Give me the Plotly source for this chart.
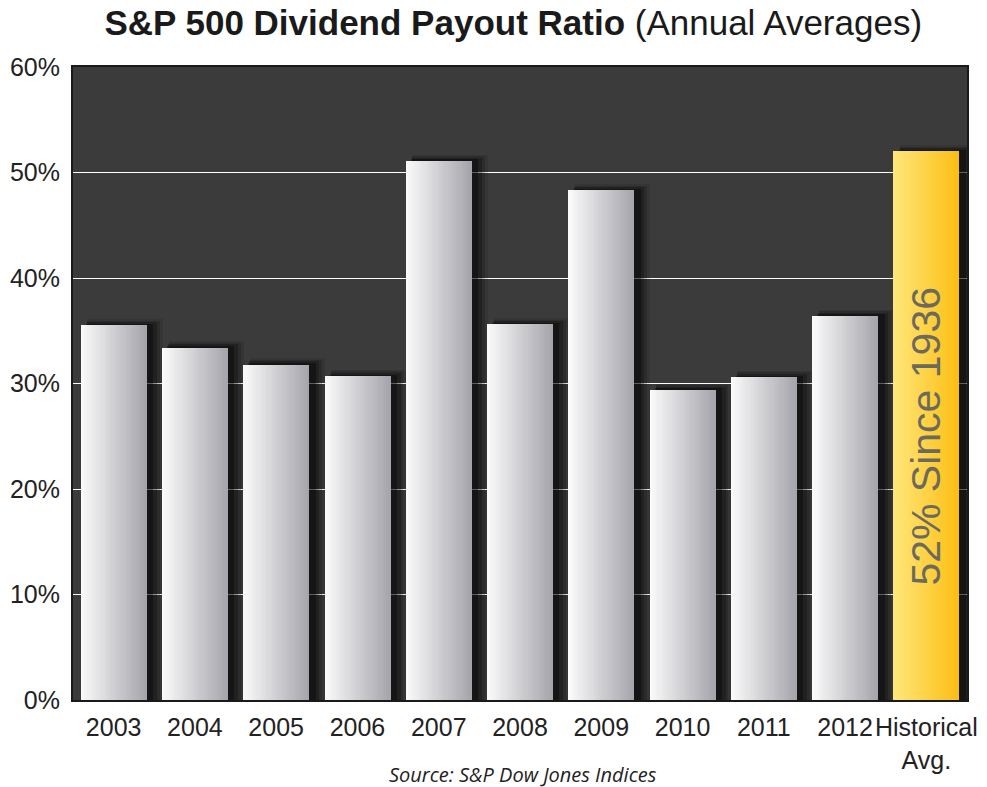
import plotly.graph_objects as go

categories = ["2003", "2004", "2005", "2006", "2007", "2008", "2009", "2010", "2011", "2012", "Historical<br>Avg."]
payout = [35.5, 33.4, 31.8, 30.7, 51.1, 35.6, 48.3, 29.4, 30.6, 36.4, 52.0]
is_hist = [False] * 10 + [True]
y_ticks = [0, 10, 20, 30, 40, 50, 60]
y_tick_text = ["0%", "10%", "20%", "30%", "40%", "50%", "60%"]

x = list(range(len(categories)))
bar_w = 0.81
n_slices = 30

def lerp(c1, c2, t):
    return "rgb(%d,%d,%d)" % tuple(round(a + (b - a) * t) for a, b in zip(c1, c2))

grey_l, grey_r = (250, 250, 250), (165, 165, 172)
gold_l, gold_r = (255, 230, 120), (252, 190, 20)

fig = go.Figure()

# soft drop shadow layers
for k, (dx, dw, dy, a) in enumerate([(0.12, 0.12, 0.6, 0.10), (0.10, 0.08, 0.45, 0.16),
                                      (0.08, 0.05, 0.3, 0.24), (0.05, 0.02, 0.15, 0.35)]):
    fig.add_trace(go.Bar(
        x=x, y=[v + dy for v in payout], base=0,
        width=bar_w + dw, offset=-bar_w / 2 + dx - dw / 2 + 0.02,
        marker=dict(color="rgba(0,0,0,%.2f)" % a, line=dict(width=0)),
        hoverinfo="skip", showlegend=False))

# gradient bars built from vertical slices
sw = bar_w / n_slices
for i in range(n_slices):
    t = i / (n_slices - 1)
    cols = [lerp(gold_l, gold_r, t) if h else lerp(grey_l, grey_r, t) for h in is_hist]
    fig.add_trace(go.Bar(
        x=x, y=payout, width=sw * 1.08, offset=-bar_w / 2 + i * sw,
        marker=dict(color=cols, line=dict(width=0)),
        showlegend=False, hovertemplate="%{y}%<extra></extra>"))

fig.add_annotation(x=x[-1], y=25, text="52% Since 1936", textangle=-90, showarrow=False,
                   font=dict(family="Liberation Sans, Arial", size=41, color="#6c6a5c"))

fig.add_annotation(xref="paper", yref="paper", x=0.503, y=-0.117, yanchor="middle",
                   text="<i>Source: S&P Dow Jones Indices</i>", showarrow=False,
                   font=dict(family="Open Sans, Liberation Sans", size=20, color="#222"))

fig.update_layout(
    width=987, height=787,
    barmode="overlay", bargap=0,
    paper_bgcolor="white", plot_bgcolor="#3b3b3b",
    margin=dict(l=73, r=20, t=67, b=87),
    title=dict(text="<b>S&P 500 Dividend Payout Ratio</b> (Annual Averages)",
               x=0.52, xanchor="center", y=0.971, yanchor="middle",
               font=dict(family="Liberation Sans, Arial", size=35, color="#1a1a1a")),
    font=dict(family="Liberation Sans, Arial", size=25, color="#222"),
    xaxis=dict(tickvals=x, ticktext=categories, range=[-0.5, len(x) - 0.5], tickangle=0,
               automargin=False,
               showgrid=False, zeroline=False, ticks="", showline=True, linecolor="#1a1a1a",
               linewidth=2, mirror=True, tickfont=dict(size=25), ticklabelstandoff=4),
    yaxis=dict(range=[0, 60], tickvals=y_ticks, ticktext=y_tick_text, showgrid=True,
               automargin=False,
               gridcolor="white", gridwidth=1, zeroline=False, ticks="", showline=True,
               linecolor="#1a1a1a", linewidth=2, mirror=True, tickfont=dict(size=25),
               ticklabelstandoff=6),
)

fig.write_html("out.html", config={"displayModeBar": False},
               post_script="document.body.style.margin='0';")
